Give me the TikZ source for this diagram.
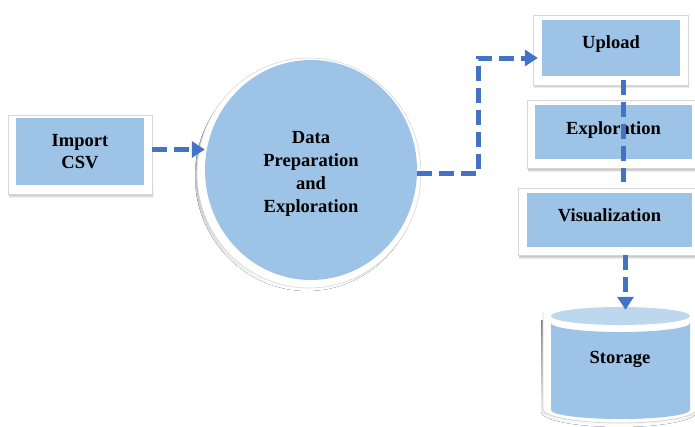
\documentclass[tikz,border=0pt]{standalone}
\usepackage{fontspec}
\setmainfont{Liberation Serif}
\usetikzlibrary{arrows.meta,calc,shapes.geometric}
\definecolor{boxblue}{RGB}{157,195,230}
\definecolor{topblue}{RGB}{189,215,238}
\definecolor{lineblue}{RGB}{68,114,196}
\definecolor{rim}{RGB}{215,215,215}
\definecolor{shade}{RGB}{160,160,160}
\begin{document}
\begin{tikzpicture}[x=1pt,y=-1pt,
  lbl/.style={font=\fontsize{18.5}{22}\selectfont\bfseries, align=center},
  bluebox/.style={fill=boxblue, draw=none, inner sep=0pt, lbl},
  framebox/.style={fill=white, draw=rim, line width=0.8pt},
  conn/.style={draw=lineblue, line width=5pt, dash pattern=on 15pt off 7pt,
    -{Triangle[width=16pt,length=13pt]}},
  plainconn/.style={draw=lineblue, line width=5pt, dash pattern=on 15pt off 7pt}]
\useasboundingbox (0,0) rectangle (695,426);

% frames with shadows
\fill[shade] (9,190) rectangle (153,198);
\draw[framebox] (8,115) rectangle (152,194);
\fill[shade] (534,82) rectangle (689,88);
\draw[framebox] (533,15) rectangle (688,85);
\fill[shade] (528,165) rectangle (700,172);
\draw[framebox] (527,100) rectangle (700,168);
\fill[shade] (519,252) rectangle (700,259);
\draw[framebox] (518,188) rectangle (700,255);

% circle backing
\fill[shade] (307,176) ellipse [x radius=112pt, y radius=115pt];
\fill[white,draw=rim,line width=0.6pt] (309,173) ellipse [x radius=112pt, y radius=115pt];

% storage backing
\fill[shade] (541,320) -- (541,412) arc[start angle=180,end angle=360,x radius=78pt,y radius=15pt] -- (697,320) -- cycle;
\fill[white] (543,316) -- (543,409) arc[start angle=180,end angle=360,x radius=77pt,y radius=14pt]
  -- (697,316) arc[start angle=0,end angle=180,x radius=77pt,y radius=13pt] -- cycle;
\draw[rim, line width=0.8pt] (543,312) -- (543,409) arc[start angle=180,end angle=360,x radius=77pt,y radius=14pt] -- (697,312);

% blue shapes
\node[bluebox, minimum width=128pt, minimum height=67pt] (imp) at (80,151.5) {Import\\CSV};
\node[ellipse, fill=boxblue, inner sep=0pt, minimum width=212pt, minimum height=220pt,
  font=\fontsize{18.5}{23}\selectfont\bfseries] (circ) at (311,170)
  {\raisebox{-3.5pt}[\height][\depth]{\begin{tabular}{@{}c@{}}Data\\Preparation\\and\\Exploration\end{tabular}}};
\node[bluebox, minimum width=138pt, minimum height=56pt] (up) at (611,48) {\raisebox{4pt}[\height][\depth]{Upload}};
\node[bluebox, minimum width=157pt, minimum height=54pt] (expl) at (613.5,132) {\raisebox{2pt}[\height][\depth]{Exploration}};
\node[bluebox, minimum width=165pt, minimum height=54pt] (viz) at (609.5,220) {\raisebox{5pt}[\height][\depth]{Visualization}};

% storage cylinder
\fill[boxblue] (551,323) arc[start angle=180,end angle=360,x radius=69.5pt,y radius=9pt]
  -- (690,410) arc[start angle=0,end angle=-180,x radius=69.5pt,y radius=9pt] -- cycle;
\node[ellipse, fill=topblue, inner sep=0pt, minimum width=139pt, minimum height=18pt] (stortop) at (620.5,316) {};
\node[lbl] (stor) at (620,359) {Storage};

% connectors
\draw[conn] ($(imp.east)+(8,-2)$) -- ($(imp.east -| circ.west)+(0,-2)$);
\draw[conn] (circ.-2) -- ++(61,0) |- ($(up.west)+(-4,10)$);
\draw[plainconn] ($(up.south)+(12,4)$) -- ($(viz.north)+(13.5,-11)$);
\draw[conn] ($(viz.south)+(16,8)$) -- ($(stortop.north)+(5,3)$);
\end{tikzpicture}
\end{document}
